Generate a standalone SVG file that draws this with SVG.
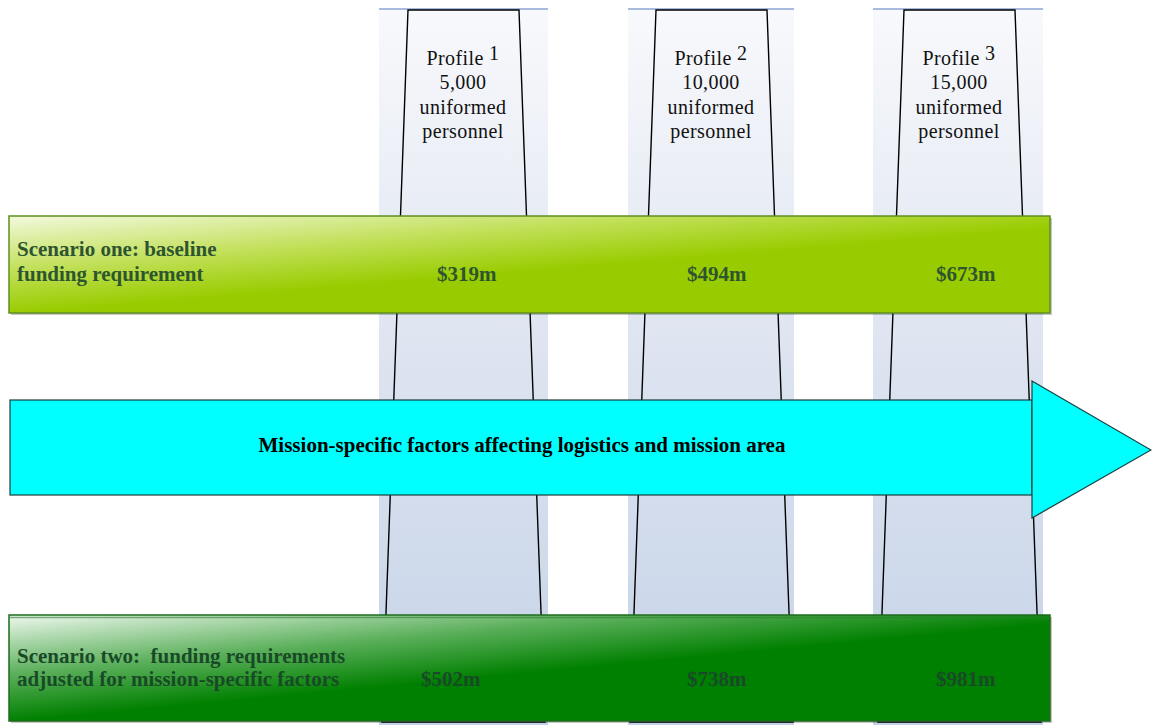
<svg xmlns="http://www.w3.org/2000/svg" width="1152" height="725" viewBox="0 0 1152 725">
<defs>
<linearGradient id="colbg" x1="0" y1="0" x2="0" y2="1">
<stop offset="0" stop-color="#f8f9fc"/>
<stop offset="0.45" stop-color="#dfe5f1"/>
<stop offset="1" stop-color="#c4d2e7"/>
</linearGradient>
<linearGradient id="g1" gradientUnits="userSpaceOnUse" x1="9" y1="216" x2="17" y2="313">
<stop offset="0" stop-color="#f3f9de"/>
<stop offset="0.55" stop-color="#c2e05a"/>
<stop offset="1" stop-color="#99cc00"/>
</linearGradient>
<linearGradient id="g2" gradientUnits="userSpaceOnUse" x1="9" y1="615" x2="19" y2="721">
<stop offset="0" stop-color="#eef8ee"/>
<stop offset="0.55" stop-color="#5cb05c"/>
<stop offset="1" stop-color="#008000"/>
</linearGradient>
</defs>
<style>
.colbg{fill:url(#colbg)}
.topline{stroke:#a9bbdd;stroke-width:2}
.trap{fill:none;stroke:#000;stroke-width:1.4}
.prof{font-family:"Liberation Serif","Times New Roman",serif;font-size:20px;letter-spacing:0.4px;fill:#111;text-anchor:middle}
.lbl{font-family:"Liberation Serif","Times New Roman",serif;font-size:21px;font-weight:bold}
.t1{fill:#2d5530}
.t2{fill:#194a28}
.shadow{fill:#000;opacity:0.22}
.arrow{fill:#00ffff;stroke:#1c3c3c;stroke-width:1.2}
</style>
<rect width="1152" height="725" fill="#fff"/>
<g id="col1">
<rect class="colbg" x="379" y="9" width="169" height="716"/>
<line class="topline" x1="379" y1="9" x2="548" y2="9"/>
<polygon class="trap" points="408,10 519,10 545,722 382,722"/>
<text class="prof" x="463" y="65">Profile <tspan dy="-5">1</tspan></text>
<text class="prof" x="463" y="89">5,000</text>
<text class="prof" x="463" y="114">uniformed</text>
<text class="prof" x="463" y="138">personnel</text>
</g>
<g id="col2">
<rect class="colbg" x="628" y="9" width="166" height="716"/>
<line class="topline" x1="628" y1="9" x2="794" y2="9"/>
<polygon class="trap" points="656,10 767,10 793,722 630,722"/>
<text class="prof" x="711" y="65">Profile <tspan dy="-5">2</tspan></text>
<text class="prof" x="711" y="89">10,000</text>
<text class="prof" x="711" y="114">uniformed</text>
<text class="prof" x="711" y="138">personnel</text>
</g>
<g id="col3">
<rect class="colbg" x="873" y="9" width="170" height="716"/>
<line class="topline" x1="873" y1="9" x2="1043" y2="9"/>
<polygon class="trap" points="904,10 1015,10 1041,722 878,722"/>
<text class="prof" x="959" y="65">Profile <tspan dy="-5">3</tspan></text>
<text class="prof" x="959" y="89">15,000</text>
<text class="prof" x="959" y="114">uniformed</text>
<text class="prof" x="959" y="138">personnel</text>
</g>
<g id="connectors"></g>
<g id="scenario1">
<rect class="shadow" x="11" y="218" width="1041" height="97"/>
<rect x="9" y="216" width="1041" height="97" fill="url(#g1)" stroke="#5e8f22" stroke-width="1.5"/>
<text class="lbl t1" x="17" y="256">Scenario one: baseline</text>
<text class="lbl t1" x="17" y="281">funding requirement</text>
<text class="lbl t1" x="437" y="281">$319m</text>
<text class="lbl t1" x="687" y="281">$494m</text>
<text class="lbl t1" x="936" y="281">$673m</text>
</g>
<g id="mission-arrow">
<rect class="arrow" x="10" y="400" width="1022" height="95"/>
<polygon class="arrow" points="1032,381 1151,450 1032,518"/>
<text class="lbl" x="522" y="452" fill="#000" text-anchor="middle">Mission-specific factors affecting logistics and mission area</text>
</g>
<g id="scenario2">
<rect class="shadow" x="11" y="617" width="1041" height="106"/>
<rect x="9" y="615" width="1041" height="106" fill="url(#g2)" stroke="#1d6b1d" stroke-width="1.5"/>
<line x1="10" y1="617.5" x2="1049" y2="617.5" stroke="#2e7d32" stroke-width="1.5" opacity="0.6"/>
<text class="lbl t2" x="17" y="663" xml:space="preserve">Scenario two:  funding requirements</text>
<text class="lbl t2" x="17" y="686">adjusted for mission-specific factors</text>
<text class="lbl t2" x="421" y="686">$502m</text>
<text class="lbl t2" x="687" y="686">$738m</text>
<text class="lbl t2" x="936" y="686">$981m</text>
</g>
</svg>
